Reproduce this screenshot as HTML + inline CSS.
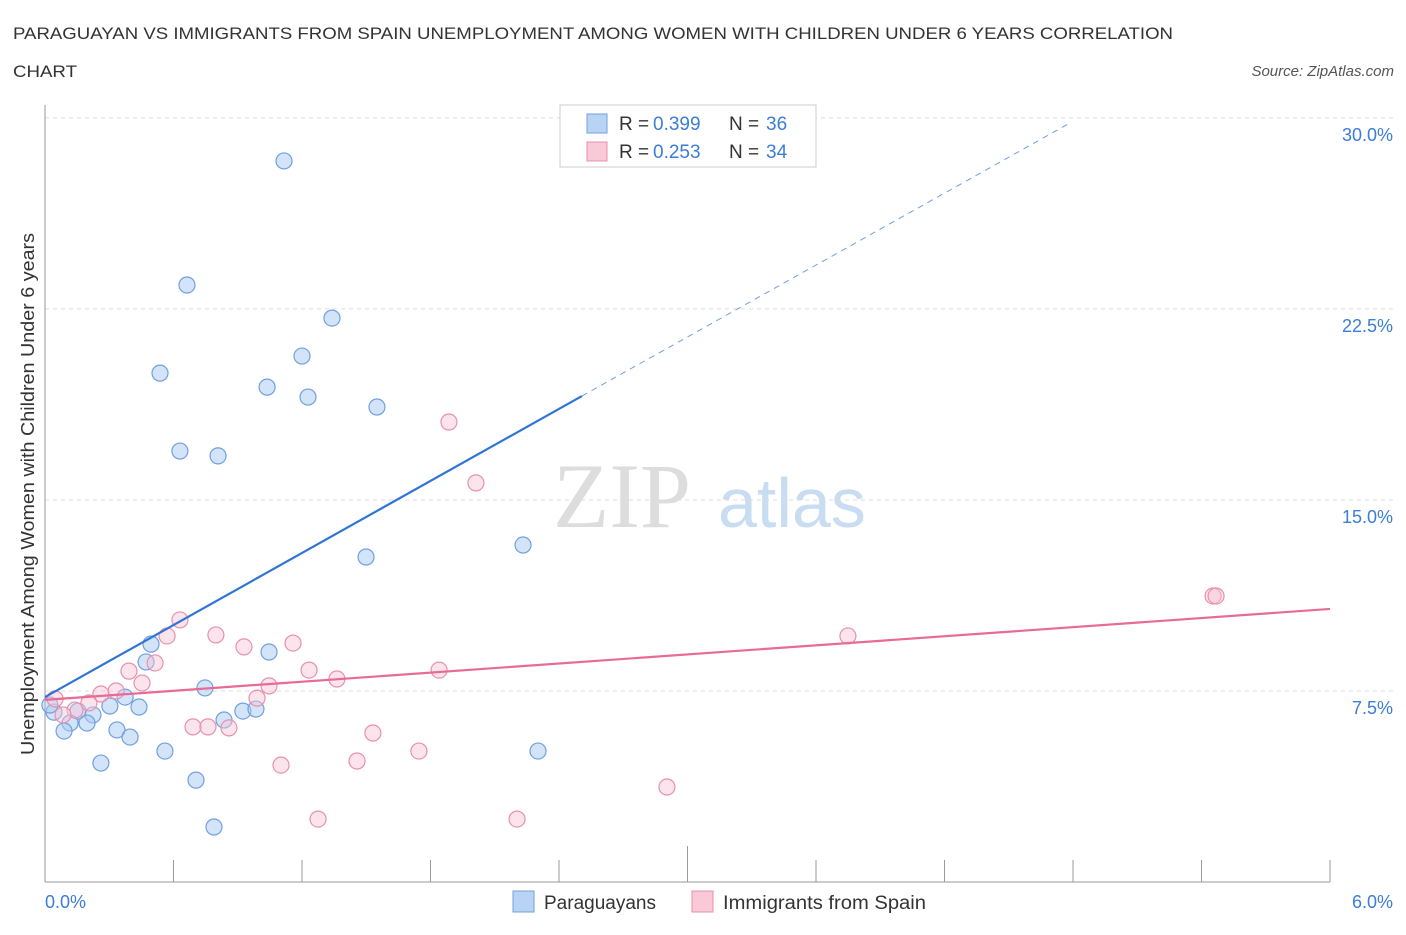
<!DOCTYPE html>
<html><head><meta charset="utf-8"><style>
body{margin:0;background:#fff;font-family:"Liberation Sans",sans-serif;}
</style></head><body>
<svg width="1406" height="930" xmlns="http://www.w3.org/2000/svg" font-family="Liberation Sans, sans-serif">
<text x="13" y="39" font-size="17" fill="#333" textLength="1160" lengthAdjust="spacingAndGlyphs">PARAGUAYAN VS IMMIGRANTS FROM SPAIN UNEMPLOYMENT AMONG WOMEN WITH CHILDREN UNDER 6 YEARS CORRELATION</text>
<text x="13" y="77" font-size="17" fill="#333" textLength="64" lengthAdjust="spacingAndGlyphs">CHART</text>
<text x="1394" y="76" font-size="15" fill="#555" text-anchor="end" font-style="italic">Source: ZipAtlas.com</text>
<text x="553" y="527" font-size="92" fill="#ddd" font-family="Liberation Serif, serif">ZIP</text>
<text x="718" y="527" font-size="70" fill="#c8dcf2">atlas</text>
<g id="grid"></g>
<g id="marks"></g>
<text transform="translate(34,494) rotate(-90)" font-size="18" fill="#333" text-anchor="middle" textLength="522" lengthAdjust="spacingAndGlyphs">Unemployment Among Women with Children Under 6 years</text>
<text x="45" y="908" font-size="18" fill="#3b7dd8">0.0%</text>
<text x="1393" y="908" font-size="18" fill="#3b7dd8" text-anchor="end">6.0%</text>
<g>
<rect x="560" y="105" width="256" height="62" fill="#fff" stroke="#ccc"/>
<rect x="587" y="114" width="20" height="19" fill="#b9d3f5" stroke="#6fa0e0"/>
<rect x="587" y="142" width="20" height="19" fill="#f9c9d8" stroke="#e890ad"/>
<text x="619" y="130" font-size="19" fill="#333">R = </text><text x="653" y="130" font-size="19" fill="#3b7dd8">0.399</text>
<text x="729" y="130" font-size="19" fill="#333">N = </text><text x="766" y="130" font-size="19" fill="#3b7dd8">36</text>
<text x="619" y="158" font-size="19" fill="#333">R = </text><text x="653" y="158" font-size="19" fill="#3b7dd8">0.253</text>
<text x="729" y="158" font-size="19" fill="#333">N = </text><text x="766" y="158" font-size="19" fill="#3b7dd8">34</text>
</g>
<g>
<rect x="513" y="891" width="21" height="21" fill="#b9d3f5" stroke="#6fa0e0"/>
<text x="544" y="909" font-size="19" fill="#333">Paraguayans</text>
<rect x="692" y="891" width="21" height="21" fill="#f9c9d8" stroke="#e890ad"/>
<text x="723" y="909" font-size="19" fill="#333" textLength="203" lengthAdjust="spacingAndGlyphs">Immigrants from Spain</text>
</g>
</svg>
<script>
const yTicks=[7.5,15,22.5,30];
const yTickLabels=["7.5%","15.0%","22.5%","30.0%"];
const blueX=[1.116,0.663,1.340,1.200,0.537,1.037,1.228,1.550,0.630,0.808,2.232,1.499,0.495,1.046,0.472,0.747,0.374,0.303,0.439,0.042,0.154,0.224,0.924,0.985,0.836,0.117,0.196,0.336,0.089,0.397,0.560,2.302,0.261,0.705,0.789,0.023];
const blueY=[28.31,23.44,22.14,20.65,19.98,19.43,19.04,18.65,16.92,16.73,13.23,12.76,9.34,9.03,8.64,7.62,7.26,6.91,6.87,6.67,6.71,6.56,6.71,6.79,6.36,6.24,6.24,5.97,5.93,5.69,5.14,5.14,4.67,4.00,2.16,6.95];
const pinkX=[1.886,2.012,5.454,5.468,3.749,0.630,0.570,0.798,1.158,0.929,0.514,0.392,1.233,1.840,0.453,1.363,1.046,0.261,0.332,0.990,0.205,0.047,0.140,0.084,0.691,0.761,0.859,1.531,1.746,1.457,1.102,2.904,1.275,2.204];
const pinkY=[18.06,15.67,11.23,11.23,9.66,10.29,9.66,9.70,9.38,9.23,8.60,8.28,8.32,8.32,7.81,7.97,7.70,7.38,7.50,7.22,7.03,7.19,6.75,6.56,6.09,6.09,6.05,5.85,5.14,4.75,4.59,3.73,2.47,2.47];
const blueTrend=[0,7.26,2.507,19.08,4.777,29.76];
const pinkTrend=[0,7.15,6.0,10.72];
const NS="http://www.w3.org/2000/svg";
const X=v=>45+v*214.17, Y=v=>882-v*25.47;
const grid=document.getElementById('grid'), marks=document.getElementById('marks');
function mk(tag,at,parent){const e=document.createElementNS(NS,tag);for(const k in at)e.setAttribute(k,at[k]);parent.appendChild(e);return e;}
yTicks.forEach((t,i)=>{
 const l=mk('line',{x1:45,x2:1393,y1:Y(t),y2:Y(t),stroke:'#ddd','stroke-dasharray':'4,4'},grid);
 
 
 const tx=mk('text',{x:1393,y:Y(t)+23,'font-size':18,fill:'#3b7dd8','text-anchor':'end'},grid);
 tx.textContent=yTickLabels[i];
 
 
});
const ax=mk('line',{x1:45,x2:1330,y1:882,y2:882,stroke:'#999'},grid);


const ay=mk('line',{x1:45,x2:45,y1:105,y2:882,stroke:'#999'},grid);


for(let i=0;i<=10;i++){
 const t=mk('line',{x1:X(i*0.6),x2:X(i*0.6),y1:i==5?846:860,y2:882,stroke:'#999'},grid);
 
 
}
blueX.forEach((v,i)=>{
 const c=mk('circle',{cx:X(v),cy:Y(blueY[i]),r:8,fill:'rgba(170,202,242,0.5)',stroke:'#6fa0e0','stroke-width':1.2},marks);
 
 
});
pinkX.forEach((v,i)=>{
 const c=mk('circle',{cx:X(v),cy:Y(pinkY[i]),r:8,fill:'rgba(248,196,212,0.45)',stroke:'#e890ad','stroke-width':1.2},marks);
 
 
});
const b1=mk('line',{x1:X(blueTrend[0]),y1:Y(blueTrend[1]),x2:X(blueTrend[2]),y2:Y(blueTrend[3]),stroke:'#2f74d6','stroke-width':2.2},marks);


const b2=mk('line',{x1:X(blueTrend[2]),y1:Y(blueTrend[3]),x2:X(blueTrend[4]),y2:Y(blueTrend[5]),stroke:'#6fa0e0','stroke-width':1,'stroke-dasharray':'6,5'},marks);


const p1=mk('line',{x1:X(pinkTrend[0]),y1:Y(pinkTrend[1]),x2:X(pinkTrend[2]),y2:Y(pinkTrend[3]),stroke:'#e86a96','stroke-width':2.2},marks);


</script>
</body></html>
